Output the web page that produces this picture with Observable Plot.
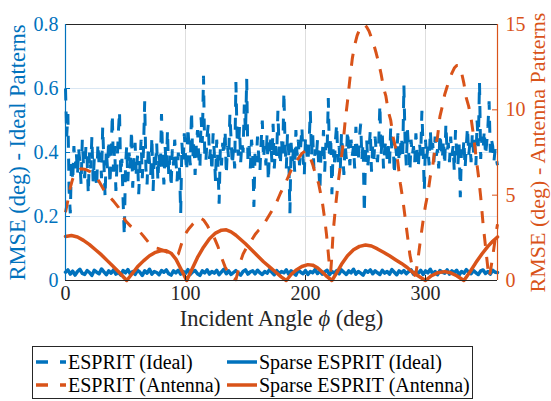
<!DOCTYPE html>
<html><head><meta charset="utf-8">
<script src="https://cdn.jsdelivr.net/npm/d3@7"></script>
<script src="https://cdn.jsdelivr.net/npm/@observablehq/plot@0.6"></script>
<style>
body{margin:0;background:#fff;font-family:"Liberation Serif","DejaVu Serif",serif;}
#wrap{position:relative;width:551px;height:401px;overflow:hidden;}
#legend{position:absolute;left:32px;top:346px;width:441px;height:53px;box-sizing:border-box;border:1px solid #262626;background:#fff;}
.item{position:absolute;display:flex;align-items:center;height:22px;font-size:20px;color:#000;white-space:nowrap;font-family:"Liberation Serif","DejaVu Serif",serif;}
.item svg{display:block;margin-right:2px;}
</style></head>
<body><div id="wrap"><div id="chart"></div><div id="legend"></div></div>
<script>
const xTicks = [0, 100, 200, 300];
const leftTicks = [0, 0.2, 0.4, 0.6, 0.8];
const rightTicks = [0, 5, 10, 15];
const seriesNames = ["ESPRIT (Ideal)", "Sparse ESPRIT (Ideal)", "ESPRIT (Antenna)", "Sparse ESPRIT (Antenna)"];

// ESPRIT (Ideal), one value per degree 0..360 (left axis)
const espritIdeal = [
0.60,0.45,0.52,0.28,0.21,0.38,0.31,0.42,0.35,0.40,
0.33,0.41,0.37,0.30,0.44,0.36,0.32,0.42,0.38,0.27,
0.40,0.35,0.45,0.31,0.38,0.34,0.29,0.43,0.36,0.40,
0.32,0.48,0.37,0.26,0.41,0.35,0.44,0.30,0.39,0.52,
0.34,0.42,0.28,0.37,0.46,0.53,0.33,0.38,0.25,0.14,
0.36,0.42,0.31,0.40,0.35,0.47,0.29,0.38,0.43,0.33,
0.39,0.27,0.36,0.44,0.32,0.41,0.56,0.35,0.30,0.42,
0.37,0.33,0.45,0.28,0.39,0.36,0.43,0.31,0.40,0.34,
0.52,0.38,0.30,0.42,0.35,0.47,0.33,0.39,0.29,0.41,
0.36,0.44,0.38,0.31,0.40,0.35,0.21,0.43,0.37,0.46,
0.39,0.34,0.48,0.41,0.36,0.53,0.38,0.44,0.33,0.42,
0.47,0.39,0.35,0.51,0.43,0.64,0.40,0.37,0.45,0.49,
0.38,0.42,0.34,0.46,0.40,0.31,0.44,0.37,0.24,0.41,
0.36,0.43,0.39,0.47,0.33,0.42,0.38,0.52,0.44,0.36,
0.41,0.35,0.62,0.45,0.39,0.48,0.37,0.43,0.40,0.55,
0.46,0.63,0.38,0.42,0.35,0.44,0.40,0.23,0.41,0.37,
0.45,0.39,0.34,0.43,0.50,0.38,0.42,0.36,0.46,0.31,
0.40,0.44,0.37,0.49,0.35,0.42,0.39,0.53,0.41,0.36,
0.44,0.38,0.59,0.42,0.35,0.46,0.40,0.21,0.43,0.37,
0.41,0.34,0.47,0.39,0.44,0.36,0.42,0.48,0.38,0.33,
0.45,0.40,0.37,0.43,0.53,0.39,0.46,0.35,0.41,0.38,
0.44,0.36,0.28,0.42,0.39,0.47,0.34,0.43,0.40,0.57,
0.38,0.45,0.27,0.41,0.36,0.44,0.49,0.37,0.42,0.35,
0.46,0.40,0.33,0.43,0.38,0.47,0.41,0.36,0.44,0.39,
0.42,0.35,0.48,0.40,0.37,0.45,0.49,0.38,0.43,0.21,
0.39,0.44,0.36,0.41,0.47,0.34,0.42,0.38,0.45,0.40,
0.37,0.43,0.55,0.39,0.46,0.35,0.41,0.44,0.38,0.42,
0.36,0.48,0.40,0.44,0.33,0.42,0.39,0.46,0.37,0.41,
0.45,0.38,0.61,0.43,0.36,0.47,0.40,0.34,0.44,0.39,
0.42,0.37,0.46,0.40,0.35,0.43,0.39,0.53,0.41,0.28,
0.44,0.38,0.42,0.36,0.47,0.40,0.43,0.37,0.45,0.39,
0.41,0.35,0.46,0.42,0.38,0.44,0.36,0.49,0.40,0.43,
0.37,0.45,0.39,0.42,0.34,0.47,0.40,0.36,0.43,0.26,
0.41,0.38,0.44,0.35,0.42,0.48,0.39,0.43,0.37,0.46,
0.40,0.44,0.36,0.50,0.42,0.62,0.38,0.45,0.41,0.47,
0.39,0.43,0.48,0.56,0.40,0.44,0.42,0.37,0.41,0.38,
0.36];

// Sparse ESPRIT (Ideal), one value every 2 degrees 0..360 (left axis)
const sparseIdeal = [
0.026,0.033,0.020,0.029,0.017,0.028,0.035,0.022,0.019,0.031,
0.025,0.016,0.032,0.026,0.021,0.036,0.027,0.018,0.030,0.023,
0.033,0.020,0.027,0.017,0.031,0.024,0.034,0.021,0.028,0.019,
0.032,0.026,0.016,0.030,0.023,0.035,0.020,0.028,0.025,0.018,
0.031,0.026,0.033,0.021,0.017,0.030,0.024,0.032,0.020,0.028,
0.023,0.034,0.019,0.027,0.031,0.021,0.016,0.030,0.024,0.033,
0.020,0.028,0.023,0.032,0.018,0.027,0.035,0.021,0.030,0.019,
0.025,0.031,0.023,0.017,0.028,0.033,0.020,0.027,0.030,0.021,
0.032,0.024,0.019,0.028,0.023,0.034,0.026,0.018,0.031,0.021,
0.028,0.024,0.033,0.020,0.030,0.023,0.017,0.032,0.026,0.021,
0.031,0.019,0.028,0.024,0.034,0.022,0.030,0.020,0.027,0.032,
0.018,0.028,0.023,0.031,0.021,0.033,0.026,0.019,0.030,0.024,
0.035,0.020,0.028,0.023,0.017,0.031,0.026,0.033,0.021,0.030,
0.024,0.019,0.032,0.023,0.028,0.020,0.034,0.026,0.018,0.030,
0.024,0.031,0.021,0.028,0.033,0.020,0.027,0.023,0.032,0.019,
0.030,0.024,0.035,0.021,0.028,0.018,0.031,0.026,0.023,0.033,
0.020,0.030,0.024,0.032,0.017,0.028,0.023,0.034,0.026,0.021,
0.031,0.024,0.019,0.030,0.033,0.022,0.028,0.020,0.032,0.026,
0.025];

// ESPRIT (Antenna), right axis (deg)
const espritAntDeg = [0,2,4,6,9,13,17,20,24,28,32,36,40,44,47,50,54,58,61,65,69,73,77,81,85,89,92,94,96,98,100,103,106,109,112,115,118,121,124,127,130,133,136,139,142,144,146,148,151,155,158,161,164,167,170,173,176,179,183,187,190,193,197,200,202,204,206,208,211,214,216,217.5,219,220,221,222,223,225,227,229,231,233,235,237,239,241,243,245,247,249,251,253,255,257,259,261,263,265,267,269,271,273,275,277,279,281,283,285,287,289,291,292,294,296,298,300,302,304,306,308,310,312,314,316,318,320,322,324,326,328,330,332,334,336,338,340,342,344,346,348,350,352,353,354,356,358,360];
const espritAntVal = [4.0,4.7,5.45,5.95,6.35,6.55,6.5,6.4,6.25,5.8,5.3,4.95,4.65,4.3,3.9,3.5,3.2,3.05,2.93,2.6,2.25,1.95,1.88,1.78,1.65,1.55,1.45,1.55,2.0,2.45,2.75,3.05,3.3,3.5,3.68,3.55,3.25,2.85,2.5,2.0,1.35,0.8,0.4,0.15,0.05,0.6,1.15,1.55,1.95,2.35,2.7,2.95,3.12,3.5,3.85,4.2,4.6,5.1,5.66,6.3,6.75,7.05,7.45,7.6,7.45,7.2,6.8,6.3,5.66,4.6,3.6,2.7,1.6,0.8,0.5,1.5,2.8,4.3,5.6,6.7,7.8,9.3,10.5,11.8,13.0,13.8,14.35,14.7,14.9,15.0,14.85,14.6,14.2,13.8,13.3,12.75,12.1,11.3,10.8,9.9,9.4,8.4,7.8,6.9,5.7,4.8,3.7,2.6,1.5,0.8,0.3,0.4,1.4,2.5,3.5,4.4,5.1,6.1,6.7,7.8,8.4,9.6,10.2,10.9,11.35,11.8,12.15,12.45,12.6,12.6,12.2,11.55,10.7,10.2,9.5,8.5,7.3,6.2,4.9,3.3,2.0,0.7,0.2,0.5,1.4,2.4,3.3];

// Sparse ESPRIT (Antenna), right axis
const sparseAntDeg = [0,5,10,15,20,25,30,35,40,45,51,55,60,65,70,75,80,84,88,92,96,101,105,110,115,120,125,130,134,138,142,146,150,155,160,165,170,175,180,184,188,192,197,202,206,210,214,218,222,226,230,235,240,245,250,255,260,265,270,275,280,285,289,295,300,305,310,316,321,326,332,337,342,347,352,356,360];
const sparseAntVal = [2.58,2.64,2.55,2.35,2.1,1.8,1.5,1.15,0.8,0.45,0,0.35,0.8,1.15,1.45,1.65,1.76,1.74,1.6,1.25,0.7,0,0.6,1.35,1.95,2.45,2.78,2.95,2.97,2.85,2.65,2.4,2.15,1.8,1.45,1.1,0.8,0.5,0.2,0,0.35,0.6,0.82,0.93,0.9,0.75,0.5,0.22,0,0.45,0.95,1.45,1.8,2.0,2.08,2.02,1.85,1.65,1.45,1.22,1.0,0.75,0.5,0.22,0,0.28,0.45,0.52,0.45,0.28,0,0.5,1.05,1.55,2.0,2.3,2.55];

const blue = "#0072BD", orange = "#D95319", dark = "#262626";
const k = 0.8 / 15; // right-axis units -> left-axis units
const dash = "12,11";
const font = "Liberation Serif, DejaVu Serif, serif";

const ideal = espritIdeal.map((v, i) => ({x: i, y: v}));
const sIdeal = sparseIdeal.map((v, i) => ({x: i * 2, y: v}));
const ant = espritAntDeg.map((d, i) => ({x: d, y: espritAntVal[i] * k}));
const sAnt = sparseAntDeg.map((d, i) => ({x: d, y: sparseAntVal[i] * k}));
const xLabel = "Incident Angle ϕ (deg)";

const chart = Plot.plot({
  width: 551, height: 340,
  marginTop: 24, marginBottom: 60, marginLeft: 65, marginRight: 54,
  style: {fontFamily: font, fontSize: "20px", background: "white", overflow: "visible"},
  x: {domain: [0, 360], axis: null},
  y: {domain: [0, 0.8], axis: null},
  marks: [
    Plot.ruleX([100, 200, 300], {stroke: "#dedede", strokeWidth: 1}),
    Plot.ruleY([0.2, 0.4, 0.6], {stroke: "#dae7f3", strokeWidth: 1}),
    Plot.line(ideal, {x: "x", y: "y", stroke: blue, strokeWidth: 3, strokeDasharray: dash, strokeLinejoin: "miter", strokeLinecap: "butt"}),
    Plot.line(sIdeal, {x: "x", y: "y", stroke: blue, strokeWidth: 3.5}),
    Plot.line(ant, {x: "x", y: "y", stroke: orange, strokeWidth: 3, strokeDasharray: dash, strokeLinecap: "butt"}),
    Plot.line(sAnt, {x: "x", y: "y", stroke: orange, strokeWidth: 3.5}),
    // frame
    Plot.ruleY([0.8], {stroke: dark, strokeWidth: 1.2}),
    Plot.ruleY([0], {stroke: dark, strokeWidth: 1.2}),
    Plot.ruleX([0], {stroke: blue, strokeWidth: 1.2}),
    Plot.ruleX([360], {stroke: orange, strokeWidth: 1.2}),
    // inward ticks
    Plot.tickX(xTicks.slice(1), {x: d => d, insetTop: 251, stroke: dark}),
    Plot.tickX(xTicks.slice(1), {x: d => d, insetBottom: 251, stroke: dark}),
    Plot.tickY(leftTicks.slice(1, -1), {y: d => d, insetRight: 427, stroke: blue}),
    Plot.tickY(rightTicks.slice(1, -1), {y: d => d * k, insetLeft: 427, stroke: orange}),
    // tick labels
    Plot.text(xTicks, {x: d => d, frameAnchor: "bottom", dy: 19, textAnchor: "middle", text: d => String(d), fill: dark, fontSize: 20, fontFamily: font}),
    Plot.text(leftTicks, {y: d => d, frameAnchor: "left", dx: -7, textAnchor: "end", text: d => d === 0 ? "0" : d.toFixed(1), fill: blue, fontSize: 20, fontFamily: font}),
    Plot.text(rightTicks, {y: d => d * k, frameAnchor: "right", dx: 8, textAnchor: "start", text: d => String(d), fill: orange, fontSize: 20, fontFamily: font}),
    // axis titles
    Plot.text([xLabel], {frameAnchor: "bottom", dy: 45, textAnchor: "middle", text: d => d, fill: dark, fontSize: 22.5, fontFamily: font}),
    Plot.text(["RMSE (deg) - Ideal Patterns"], {frameAnchor: "left", dx: -48, textAnchor: "middle", rotate: -90, text: d => d, fill: blue, fontSize: 22.5, fontFamily: font}),
    Plot.text(["RMSE (deg) - Antenna Patterns"], {frameAnchor: "right", dx: 40, textAnchor: "middle", rotate: -90, text: d => d, fill: orange, fontSize: 22, fontFamily: font})
  ]
});
document.getElementById("chart").appendChild(chart);

// italic phi in x label
chart.querySelectorAll("text").forEach(t => {
  if (t.textContent === xLabel) {
    t.textContent = "";
    const parts = [["Incident Angle ", "normal"], ["ϕ", "italic"], [" (deg)", "normal"]];
    parts.forEach(([s, st]) => {
      const ts = document.createElementNS("http://www.w3.org/2000/svg", "tspan");
      ts.setAttribute("font-style", st);
      ts.textContent = s;
      t.appendChild(ts);
    });
  }
});

// legend
const legendColors = [blue, blue, orange, orange];
const legendDash = [dash, null, dash, null];
const legendPos = [[2, 4], [193, 4], [2, 27], [193, 27]];
const lg = document.getElementById("legend");
seriesNames.forEach((name, i) => {
  const it = document.createElement("div");
  it.className = "item";
  it.style.left = legendPos[i][0] + "px";
  it.style.top = legendPos[i][1] + "px";
  const sw = d3.create("svg").attr("width", 31).attr("height", 22);
  sw.append("line").attr("x1", 1).attr("x2", 31).attr("y1", 11).attr("y2", 11)
    .attr("stroke", legendColors[i]).attr("stroke-width", 3.5)
    .attr("stroke-dasharray", legendDash[i] ? "12,12" : null);
  it.appendChild(sw.node());
  const sp = document.createElement("span");
  sp.textContent = name;
  it.appendChild(sp);
  lg.appendChild(it);
});
</script>
</body></html>
